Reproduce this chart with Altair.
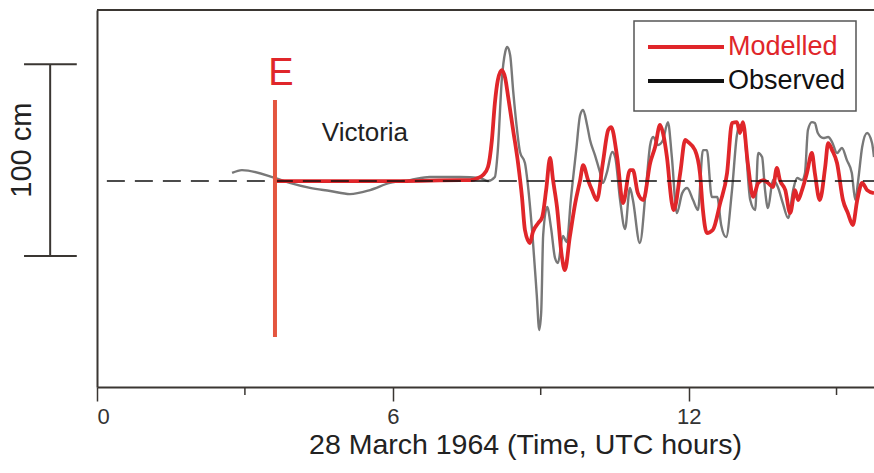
import altair as alt
import pandas as pd

# ---------------- data (time in UTC hours, sea level in cm) ----------------
obs_time = [2.74, 2.94, 3.61, 3.91, 4.32, 4.73, 5.13, 5.54, 5.94, 6.35, 6.75, 7.36, 7.77, 7.93,
            8.07, 8.13, 8.21, 8.28, 8.32, 8.38, 8.44, 8.52, 8.58, 8.68, 8.74, 8.84, 8.92, 8.97,
            9.01, 9.05, 9.13, 9.21, 9.29, 9.35, 9.45, 9.53, 9.61, 9.72, 9.80, 9.86, 9.94, 10.00,
            10.10, 10.20, 10.26, 10.34, 10.45, 10.51, 10.61, 10.71, 10.81, 10.87, 11.01, 11.14,
            11.22, 11.28, 11.38, 11.48, 11.58, 11.66, 11.76, 11.87, 11.97, 12.09, 12.19, 12.29,
            12.37, 12.47, 12.58, 12.66, 12.76, 12.88, 12.98, 13.04, 13.12, 13.25, 13.35, 13.41,
            13.49, 13.55, 13.61, 13.71, 13.81, 13.91, 14.02, 14.12, 14.20, 14.30, 14.36, 14.42,
            14.50, 14.56, 14.62, 14.73, 14.83, 14.91, 15.01, 15.11, 15.21, 15.31, 15.38, 15.44,
            15.52, 15.62, 15.72, 15.76]
obs_level = [4.2, 5.7, 1.6, -1.0, -3.6, -5.2, -6.8, -4.7, -1.0, 0.5, 2.1, 2.1, 1.6, 0.0,
             2.1, 16.1, 52.6, 67.2, 69.8, 65.6, 47.4, 26.6, 15.1, 9.4, -2.1, -30.7, -59.4, -77.6,
             -68.2, -28.1, -13.5, -24.5, -40.1, -42.7, -28.6, -31.8, -9.9, 16.1, 34.4, 37.0, 29.2, 21.4,
             13.5, 4.7, -1.0, 4.2, 15.1, 12.5, -9.9, -25.0, -3.6, -9.9, -32.3, -2.1,
             18.8, 22.9, 18.8, 21.4, 30.7, 12.5, -16.7, -6.3, -3.6, -9.9, -15.1, 16.1,
             16.1, -8.3, -8.3, -22.9, -29.2, -4.7, 24.0, 29.2, 26.6, -9.9, -15.1, 14.6,
             12.5, -4.7, -14.1, 0.5, -3.1, -11.5, -19.3, -4.7, 1.6, 0.5, 4.2, 26.6,
             30.7, 30.2, 25.0, 22.4, 22.9, 20.3, 14.6, 17.2, 10.9, 4.2, -9.9, 0.5,
             17.7, 25.0, 19.8, 12.5]

mod_time = [3.57, 4.12, 6.15, 7.36, 7.57, 7.73, 7.83, 7.93, 8.01, 8.07, 8.13, 8.21, 8.28, 8.34,
            8.44, 8.54, 8.62, 8.68, 8.78, 8.84, 8.95, 9.03, 9.11, 9.19, 9.25, 9.33, 9.43, 9.49,
            9.59, 9.70, 9.80, 9.86, 9.96, 10.04, 10.14, 10.26, 10.37, 10.43, 10.55, 10.67, 10.81,
            10.87, 10.97, 11.08, 11.22, 11.32, 11.42, 11.48, 11.56, 11.66, 11.70, 11.83, 11.93,
            11.99, 12.13, 12.23, 12.29, 12.37, 12.49, 12.64, 12.78, 12.88, 12.98, 13.04, 13.10,
            13.20, 13.31, 13.41, 13.51, 13.61, 13.71, 13.79, 13.85, 13.96, 14.06, 14.16, 14.22,
            14.30, 14.40, 14.50, 14.56, 14.66, 14.77, 14.83, 14.91, 15.01, 15.13, 15.23, 15.33,
            15.42, 15.52, 15.62, 15.76]
mod_level = [0.0, 0.0, 0.0, 0.5, 0.5, 1.6, 3.1, 7.3, 21.4, 40.6, 52.6, 57.8, 53.6, 43.8,
             26.6, 9.4, -8.3, -25.5, -32.3, -26.6, -21.9, -18.8, -4.7, 12.0, 0.5, -13.5, -39.6, -46.4,
             -29.2, -11.5, 0.5, 8.3, 0.5, -4.7, -9.9, 9.4, 26.6, 28.1, 12.5, -11.5, 5.7,
             5.7, -6.3, -9.9, 9.4, 17.7, 29.2, 25.0, 12.5, -11.5, -15.1, 4.2, 21.4,
             20.3, 16.1, 4.2, -15.1, -27.1, -25.5, -11.5, 4.2, 30.2, 30.7, 25.0, 30.7,
             9.4, -8.3, -1.0, 0.5, -1.0, -3.1, 6.8, 0.5, -4.7, -16.7, -4.7, -9.9,
             -4.7, 4.2, 14.6, 4.2, -9.9, 7.3, 19.8, 16.1, 9.4, -9.9, -16.7, -22.9,
             -9.9, -1.0, -4.7, -6.3]

x_ticks_major = [0, 6, 12]
x_ticks_minor = [3, 9, 15]
baseline_time = [0.2, 15.76]
quake_time = 3.61            # earthquake marker "E"
quake_span = [-81.3, 42.2]   # extent of marker in cm
scale_bar_cm = [-39.1, 60.9]  # 100 cm scale bar
scale_bar_time = -0.95
scale_cap_time = [-1.48, -0.41]

X_MAX = 15.76
Y_MIN, Y_MAX = -107.3, 89.1
W, H = 777, 377

FONT = "Liberation Sans"
AX = "#3a3632"
RED = "#e0262a"

xs = alt.Scale(domain=[0, X_MAX], nice=False, zero=False)
ys = alt.Scale(domain=[Y_MIN, Y_MAX], nice=False, zero=False)

obs_df = pd.DataFrame({"t": obs_time, "v": obs_level})
mod_df = pd.DataFrame({"t": mod_time, "v": mod_level})
base_df = pd.DataFrame({"t": baseline_time, "v": [0, 0]})

xenc = alt.X("t:Q", scale=xs,
             axis=alt.Axis(values=x_ticks_major, title="28 March 1964 (Time, UTC hours)",
                           tickSize=14, tickWidth=1.5, tickColor=AX, domainColor=AX,
                           domainWidth=2, labelFontSize=22, labelColor="#333", labelFont=FONT,
                           labelPadding=5, titleFontSize=28.5, titleFontWeight="normal",
                           titleColor="#222", titleFont=FONT, titleX=428, titleY=57,
                           titleAlign="center", titleBaseline="middle", grid=False))
yenc = alt.Y("v:Q", scale=ys,
             axis=alt.Axis(title=None, ticks=False, labels=False, domainColor=AX,
                           domainWidth=2, grid=False))

obs = alt.Chart(obs_df).mark_line(color="#787878", strokeWidth=2.4,
                                  interpolate="monotone", clip=True).encode(x=xenc, y=yenc)
mod = alt.Chart(mod_df).mark_line(color=RED, strokeWidth=3.8,
                                  interpolate="monotone", clip=True).encode(x="t:Q", y="v:Q")
base = alt.Chart(base_df).mark_line(color="#111", strokeWidth=1.5, strokeDash=[18, 10],
                                    clip=True).encode(x="t:Q", y="v:Q")

quake = alt.Chart(pd.DataFrame({"t": [quake_time], "v": [quake_span[0]], "v2": [quake_span[1]]})
                  ).mark_rule(color="#e4553f", strokeWidth=4).encode(x="t:Q", y="v:Q", y2="v2:Q")
quake_lbl = alt.Chart(pd.DataFrame({"t": [3.73], "v": [56.0], "s": ["E"]})).mark_text(
    color=RED, fontSize=38, font=FONT, align="center", baseline="middle").encode(
    x="t:Q", y="v:Q", text="s:N")
place_lbl = alt.Chart(pd.DataFrame({"t": [4.56], "v": [25.0], "s": ["Victoria"]})).mark_text(
    color="#222", fontSize=26, font=FONT, align="left", baseline="middle").encode(
    x="t:Q", y="v:Q", text="s:N")

sb = alt.Chart(pd.DataFrame({"t": [scale_bar_time], "v": [scale_bar_cm[0]], "v2": [scale_bar_cm[1]]})
               ).mark_rule(color=AX, strokeWidth=2, clip=False).encode(x="t:Q", y="v:Q", y2="v2:Q")
caps = alt.Chart(pd.DataFrame({"t": [scale_cap_time[0]] * 2, "t2": [scale_cap_time[1]] * 2,
                               "v": scale_bar_cm})).mark_rule(color=AX, strokeWidth=2, clip=False
                                                              ).encode(x="t:Q", x2="t2:Q", y="v:Q")
sb_lbl = alt.Chart(pd.DataFrame({"t": [-1.52], "v": [16.1], "s": ["100 cm"]})).mark_text(
    color="#222", fontSize=29, font=FONT, angle=270, align="center", baseline="middle",
    clip=False).encode(x="t:Q", y="v:Q", text="s:N")

top = alt.Chart(pd.DataFrame({"a": [0]})).mark_rule(color=AX, strokeWidth=2).encode(
    x=alt.value(0), x2=alt.value(W), y=alt.value(0))
minor = alt.Chart(pd.DataFrame({"t": x_ticks_minor})).mark_rule(
    color=AX, strokeWidth=1.5, clip=False).encode(x="t:Q", y=alt.value(H), y2=alt.value(H + 8))

# legend
leg_box = alt.Chart(pd.DataFrame({"a": [0]})).mark_rect(
    fill="white", stroke="#555", strokeWidth=1.5).encode(
    x=alt.value(537), x2=alt.value(759), y=alt.value(11), y2=alt.value(101))
leg_df = pd.DataFrame({"name": ["Modelled", "Observed"], "col": [RED, "#111"],
                       "yy": [37, 71]})
leg_lines = alt.Chart(leg_df).mark_rule(strokeWidth=4).encode(
    x=alt.value(551), x2=alt.value(627), y=alt.Y("yy:Q", scale=None),
    color=alt.Color("col:N", scale=None))
leg_text = alt.Chart(leg_df).mark_text(fontSize=27, font=FONT, align="left",
                                       baseline="middle").encode(
    x=alt.value(631), y=alt.Y("yy:Q", scale=None), text="name:N",
    color=alt.Color("col:N", scale=None))

chart = alt.layer(obs, mod, base, quake, quake_lbl, place_lbl, sb, caps, sb_lbl, top, minor,
                  leg_box, leg_lines, leg_text).properties(
    width=W, height=H,
    padding={"left": 97, "top": 10, "right": 0, "bottom": 86},
    autosize=alt.AutoSizeParams(type="none"),
    background="white",
).configure_view(stroke=None)

chart.save("out.html", embed_options={"renderer": "svg", "actions": False})
